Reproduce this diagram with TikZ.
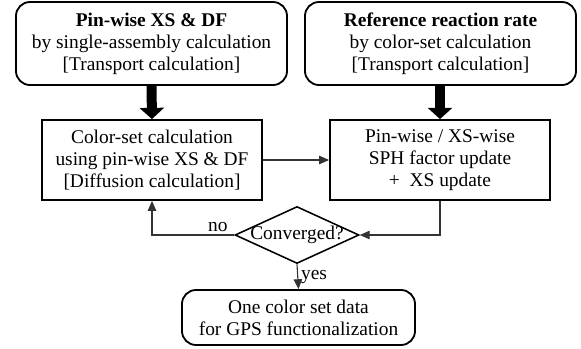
\documentclass[tikz,border=0pt]{standalone}
\usepackage{fontspec}
\setmainfont{Liberation Serif}
\usepackage{tikz}
\usetikzlibrary{shapes.geometric,arrows.meta,positioning,calc}

\tikzset{
    roundbox/.style={rectangle, rounded corners=10pt, draw=black, line width=1.3pt,
                     minimum width=6.775cm, minimum height=2.075cm, align=center, inner sep=2pt},
    plainbox/.style={rectangle, draw=black, line width=1.3pt,
                     minimum width=5.5cm, minimum height=2cm, align=center, inner sep=2pt},
    decision/.style={diamond, draw=black, line width=1.1pt, aspect=2.2, inner sep=-4pt,
                     minimum width=3.1cm, minimum height=1.425cm, align=center},
    thickarrow/.style={line width=0.25cm, -{Triangle[width=0.6cm, length=0.28cm]}},
    thinarrow/.style={draw=black!80, line width=0.8pt, -{Triangle[width=6pt, length=7pt]}},
    lbl/.style={inner sep=2pt}
}

\begin{document}
\begin{tikzpicture}[x=0.025cm, y=-0.025cm, font=\fontsize{13.8}{15.6}\selectfont]
    \useasboundingbox (0,0) rectangle (581,349);

    % input boxes
    \node[roundbox] (pinxs) at (151.5,43.5) {
        \textbf{Pin-wise XS \& DF}\\
        by single-assembly calculation\\
        {[}Transport calculation]
    };
    \node[roundbox] (refrate) at (440.5,43.5) {
        \textbf{Reference reaction rate}\\
        by color-set calculation\\
        {[}Transport calculation]
    };

    % iteration boxes
    \node[plainbox] (colorset) at (152,160) {
        Color-set calculation\\
        using pin-wise XS \& DF\\
        {[}Diffusion calculation]
    };
    \node[plainbox] (sphupd) at (440,160) {
        Pin-wise / XS-wise\\
        SPH factor update\\
        +\ \ XS update
    };

    \node[decision] (conv) at (297,235) {Converged?};

    \node[roundbox, minimum width=5.825cm, minimum height=1.375cm] (final) at (298.5,317.5) {
        One color set data\\
        for GPS functionalization
    };

    % connectors
    \draw[thickarrow] (pinxs.south) -- (colorset.north);
    \draw[thickarrow] (refrate.south -| sphupd.north) -- (sphupd.north);
    \draw[thinarrow] (colorset.east) -- (sphupd.west);
    \draw[thinarrow] (sphupd.south) |- (conv.east);
    \draw[thinarrow] (conv.west) -| node[lbl, above, pos=0.1] {no} (colorset.south);
    \draw[thinarrow] (conv.south) -- node[lbl, right] {yes} (final.north);
\end{tikzpicture}
\end{document}
